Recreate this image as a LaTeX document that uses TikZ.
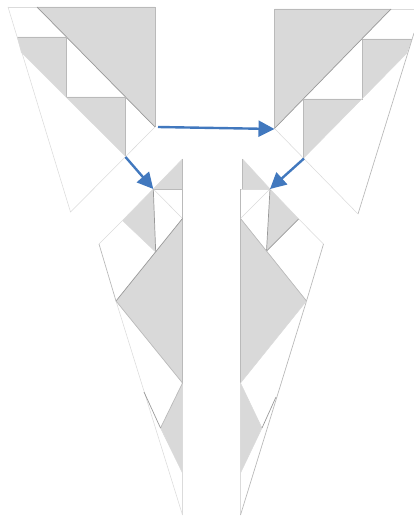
\documentclass[tikz,border=0pt]{standalone}
\usetikzlibrary{arrows.meta}
\definecolor{foldgray}{HTML}{D9D9D9}
\definecolor{foldblue}{HTML}{4178BE}
\tikzset{
  px/.style={x=1pt,y=-1pt},
  fill gray/.style={fill=foldgray,draw=none},
  edge light/.style={draw=black!14,line width=.55pt},
  edge mid/.style={draw=black!27,line width=.7pt},
  edge dark/.style={draw=black!40,line width=.7pt},
  flow/.style={draw=foldblue,line width=2.4pt,-{Triangle[length=16pt,width=16pt]},shorten >=0pt}
}
\begin{document}
\begin{tikzpicture}[px]
\useasboundingbox (0,0) rectangle (414,516);
\clip (0,0) rectangle (414,516);

% ---- top left piece
\fill[fill gray] (37,7) -- (155,7) -- (155,127) -- cycle;
\fill[fill gray] (17,37) -- (66,37) -- (66,97) -- (21,52) -- cycle;
\fill[fill gray] (66,97) -- (125.7,97) -- (125.7,156.5) -- cycle;
\draw[edge light] (8,7) -- (37,7);
\draw[edge mid] (37,7) -- (155,7) -- (155,127);
\draw[edge dark] (37,7) -- (155,127);
\draw[edge mid] (17,37) -- (66,37) -- (66,97) -- (125.7,97) -- (125.7,156.5);
\draw[edge light] (21,52) -- (125.7,156.5);
\draw[edge light] (8,7) -- (70.5,212) -- (155,127);

% ---- top right piece
\fill[fill gray] (274.5,9) -- (391,9) -- (274.5,128.5) -- cycle;
\fill[fill gray] (362,39) -- (412,39) -- (407,53) -- (362,99) -- cycle;
\fill[fill gray] (303.7,99) -- (362,99) -- (303.7,158) -- cycle;
\draw[edge mid] (391,9) -- (274.5,9) -- (274.5,128.5);
\draw[edge light] (391,9) -- (414,9);
\draw[edge dark] (391,9) -- (274.5,128.5);
\draw[edge mid] (412,39) -- (362,39) -- (362,99) -- (303.7,99) -- (303.7,158);
\draw[edge light] (407,53) -- (303.7,158);
\draw[edge mid] (414,33) -- (358,214);
\draw[edge light] (358,214) -- (274.5,128.5);

% ---- lower left piece
\fill[fill gray] (182.5,159) -- (182.5,189) -- (153.3,189) -- cycle;
\fill[fill gray] (122.5,220.5) -- (153.3,189) -- (155.7,252) -- cycle;
\fill[fill gray] (182.5,218.5) -- (116,301) -- (182.5,383) -- cycle;
\fill[fill gray] (182.5,383) -- (160.5,428) -- (182.5,473) -- cycle;
\draw[edge light] (153.3,189) -- (182.5,159);
\draw[edge mid] (153.3,189) -- (182.5,189);
\draw[edge light] (153.3,189) -- (182.5,218.5);
\draw[edge mid] (182.5,159) -- (182.5,383);
\draw[edge light] (182.5,383) -- (182.5,515);
\draw[edge dark] (153.3,189) -- (155.7,252);
\draw[edge light] (153.3,189) -- (122.5,220.5);
\draw[edge light] (122.5,220.5) -- (155.7,252);
\draw[edge dark] (182.5,218.5) -- (116,301);
\draw[edge light] (122.5,220.5) -- (99,244);
\draw[edge mid] (99,244) -- (116,301);
\draw[edge light] (116,301) -- (182.5,515);
\draw[edge mid] (116,301) -- (182.5,383) -- (160.5,428);
\draw[edge light] (160.5,428) -- (182.5,473);
\draw[edge dark] (144,392) -- (160.5,428);

% ---- lower right piece
\fill[fill gray] (242.5,159) -- (270,189) -- (242.5,189) -- cycle;
\fill[fill gray] (270,189) -- (298.7,219) -- (266.5,251) -- cycle;
\fill[fill gray] (240.5,218.5) -- (306.5,301) -- (240.5,383) -- cycle;
\fill[fill gray] (240.5,383) -- (262,428) -- (240.5,473) -- cycle;
\draw[edge light] (242.5,159) -- (270,189);
\draw[edge mid] (242.5,159) -- (242.5,189);
\draw[edge dark] (242.5,189) -- (270,189);
\draw[edge light] (240.5,189) -- (270,189);
\draw[edge mid] (240.5,189) -- (240.5,383);
\draw[edge light] (240.5,383) -- (240.5,515);
\draw[edge light] (240.5,218.5) -- (270,189);
\draw[edge dark] (270,189) -- (266.5,251);
\draw[edge light] (270,189) -- (298.7,219);
\draw[edge dark] (298.7,219) -- (266.5,251);
\draw[edge mid] (240.5,218.5) -- (306.5,301);
\draw[edge light] (298.7,219) -- (323.5,244);
\draw[edge mid] (323.5,244) -- (306.5,301) -- (240.5,515);
\draw[edge light] (306.5,301) -- (240.5,383);
\draw[edge light] (240.5,383) -- (262,428) -- (240.5,473);
\draw[edge dark] (262,428) -- (276,397);

% ---- arrows
\coordinate (aS) at (158,127);
\coordinate (aE) at (274.5,129);
\coordinate (bS) at (125.5,157);
\coordinate (bE) at (153.3,189);
\coordinate (cS) at (304,158.5);
\coordinate (cE) at (270,189);
\draw[flow] (aS) -- (aE);
\draw[flow] (bS) -- (bE);
\draw[flow] (cS) -- (cE);
\end{tikzpicture}
\end{document}
